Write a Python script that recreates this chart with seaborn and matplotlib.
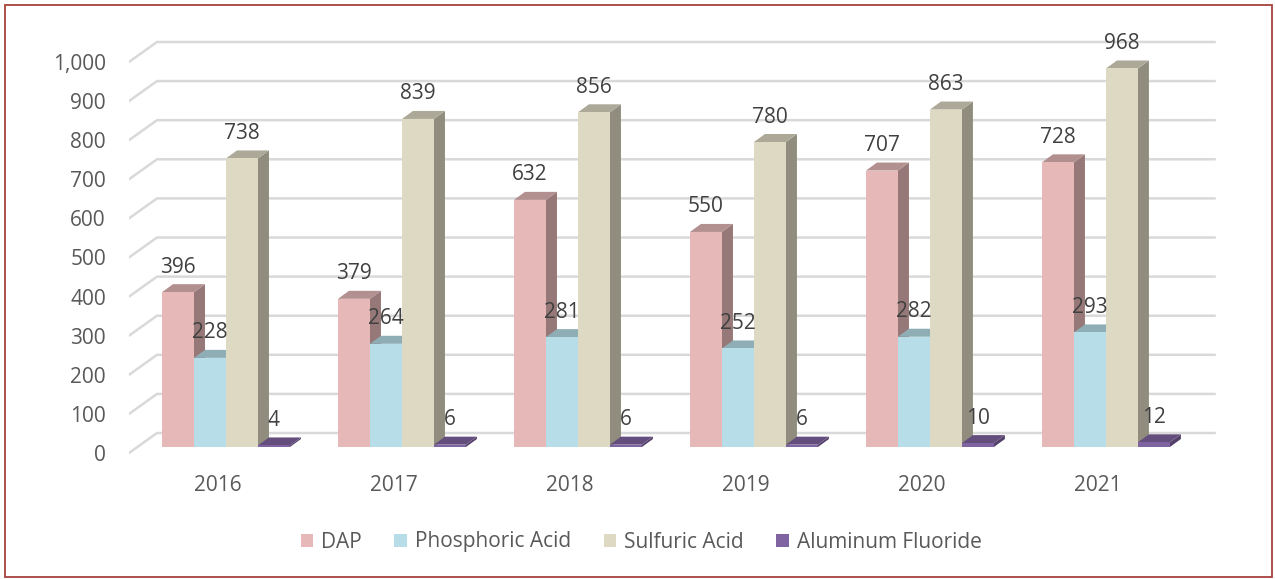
import matplotlib
matplotlib.use("Agg")
import matplotlib.pyplot as plt
import matplotlib.colors as mcolors
from matplotlib.patches import Polygon, Rectangle
from matplotlib.lines import Line2D
from matplotlib.transforms import ScaledTranslation, IdentityTransform
import numpy as np
import pandas as pd
import seaborn as sns

# data
years = ["2016", "2017", "2018", "2019", "2020", "2021"]
series = ["DAP", "Phosphoric Acid", "Sulfuric Acid", "Aluminum Fluoride"]
dap = [396, 379, 632, 550, 707, 728]
phosphoric = [228, 264, 281, 252, 282, 293]
sulfuric = [738, 839, 856, 780, 863, 968]
aluminum = [4, 6, 6, 6, 10, 12]
yticks = list(range(0, 1001, 100))
colors = ["#E6B9B8", "#B7DEE8", "#DDD9C3", "#8064A2"]

df = pd.DataFrame({
    "year": years * 4,
    "series": sum([[s] * len(years) for s in series], []),
    "value": dap + phosphoric + sulfuric + aluminum,
})

sns.set_style("white")
plt.rcParams["font.family"] = ["Open Sans", "DejaVu Sans"]
fs = 15

fig = plt.figure(figsize=(12.75, 5.79), dpi=100)
ax = fig.add_axes([129 / 1275, 1 - 460 / 579, (1230 - 129) / 1275, 440 / 579])

sns.barplot(data=df, x="year", y="value", hue="series", hue_order=series,
            palette=colors, width=0.727, saturation=1, linewidth=0, ax=ax)

ax.set_xlim(-0.551, 5.705)
ax.set_ylim(-33.2, 1092)
for s in ax.spines.values():
    s.set_visible(False)
ax.set_xlabel("")
ax.set_ylabel("")

# 3D look: pixel offsets
px = lambda x, y: ax.transData.transform((x, y))
grid_c = "#D9D9D9"
front_dy = -6
back_dx, back_dy = 28, 14
x_left, x_right = -0.551, 5.46
for v in yticks:
    f = px(x_left, v) + [0, front_dy]
    b = px(x_left, v) + [back_dx, back_dy]
    e = px(x_right, v) + [back_dx, back_dy]
    ax.add_line(Line2D([f[0], b[0], e[0]], [f[1], b[1], e[1]], color=grid_c,
                       lw=1.8, transform=IdentityTransform(), zorder=0.5))

# side & top faces of bars
bar_dx, bar_dy = 11, 8
rects = sorted([p for p in ax.patches if isinstance(p, Rectangle) and p.get_height() > 0],
               key=lambda r: r.get_x())
for k, r in enumerate(rects):
    z = 2 + k * 0.01
    fc = np.array(mcolors.to_rgb(r.get_facecolor()))
    x0, x1 = r.get_x(), r.get_x() + r.get_width()
    h = r.get_height()
    p00, p10, p11, p01 = px(x0, 0), px(x1, 0), px(x1, h), px(x0, h)
    d = np.array([bar_dx, bar_dy])
    side = Polygon([p10, p10 + d, p11 + d, p11], closed=True, fc=fc * 0.65, ec="none",
                   transform=IdentityTransform(), zorder=z)
    top = Polygon([p01, p11, p11 + d, p01 + d], closed=True, fc=fc * 0.78, ec="none",
                  transform=IdentityTransform(), zorder=z)
    r.set_zorder(z + 0.005)
    ax.add_patch(side)
    ax.add_patch(top)
    ax.annotate(f"{h:.0f}", (x0 + r.get_width() / 2, h), xytext=(0, 18),
                textcoords="offset points", ha="center", va="center",
                fontsize=fs, color="#404040", zorder=10)

# ticks
ax.set_yticks(yticks)
ax.set_yticklabels([f"{v:,}" for v in yticks])
ax.tick_params(axis="y", length=0, pad=16.6, labelsize=fs, labelcolor="#595959")
ax.tick_params(axis="x", length=0, pad=11, labelsize=fs, labelcolor="#595959")
for lab in ax.get_yticklabels():
    lab.set_transform(lab.get_transform() + ScaledTranslation(0, front_dy / 100, fig.dpi_scale_trans))
for lab in ax.get_xticklabels():
    lab.set_transform(lab.get_transform() + ScaledTranslation(-8 / 100, 0, fig.dpi_scale_trans))

handles, labels = ax.get_legend_handles_labels()
ax.get_legend().remove()
fig.legend(handles, labels, loc="center", bbox_to_anchor=(0.503, 1 - 542 / 579), ncol=4,
           frameon=False, fontsize=fs, handlelength=0.6, handleheight=0.6,
           handletextpad=0.4, columnspacing=1.55, labelcolor="#595959")

fig.patches.append(Rectangle((5 / 1275, 2 / 579), 1267 / 1275, 572 / 579, transform=fig.transFigure,
                             fill=False, ec="#A5423F", lw=1.3))

fig.savefig("out.png", dpi=100)
